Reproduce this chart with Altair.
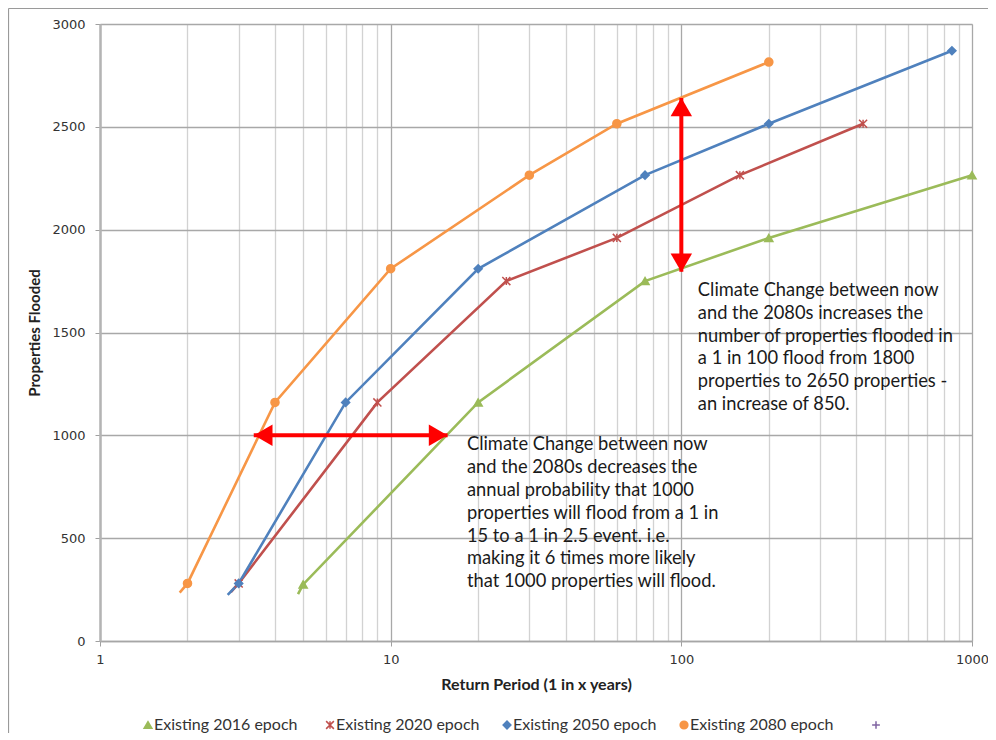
import altair as alt
import pandas as pd

# ---------------- data ----------------
series_names = ["Existing 2016 epoch", "Existing 2020 epoch",
                "Existing 2050 epoch", "Existing 2080 epoch", " "]
series_colors = ["#9BBB59", "#C0504D", "#4F81BD", "#F79646", "#8064A2"]
series_shapes = ["triangle-up", "M-1,-1L1,1M-1,1L1,-1M0,-1L0,1",
                 "diamond", "circle", "M-1,0L1,0M0,-1L0,1"]

rp_2016 = [5, 20, 75, 200, 1000]
pf_2016 = [275, 1160, 1750, 1960, 2265]
rp_2020 = [3, 9, 25, 60, 159, 422]
pf_2020 = [280, 1160, 1750, 1960, 2265, 2515]
rp_2050 = [3, 7, 20, 75, 200, 853]
pf_2050 = [280, 1160, 1810, 2265, 2515, 2870]
rp_2080 = [2, 4, 10, 30, 60, 200]
pf_2080 = [280, 1160, 1810, 2265, 2515, 2815]

# where each curve begins (a little below the first marker)
start_rp = [4.8, 2.82, 2.75, 1.88]
start_pf = [228, 238, 224, 235]

x_ticks = [1, 2, 3, 4, 5, 6, 7, 8, 9,
           10, 20, 30, 40, 50, 60, 70, 80, 90,
           100, 200, 300, 400, 500, 600, 700, 800, 900, 1000]
y_ticks = [0, 500, 1000, 1500, 2000, 2500, 3000]

# annotation arrows (data coordinates of the arrow tips)
arrow_v_rp = 100
arrow_v_pf = [1795, 2640]
arrow_h_pf = 1000
arrow_h_rp = [3.38, 15.7]

note_1 = ["Climate Change between now",
          "and the 2080s increases the",
          "number of properties flooded in",
          "a 1 in 100 flood from 1800",
          "properties to 2650 properties -",
          "an increase of 850."]
note_1_at = (114, 1703)
note_2 = ["Climate Change between now",
          "and the 2080s decreases the",
          "annual probability that 1000",
          "properties will flood from a 1 in",
          "15 to a 1 in 2.5 event. i.e.",
          "making it 6 times more likely",
          "that 1000 properties will flood."]
note_2_at = (18.3, 953)

# legend layout (pixel offsets of each entry from the plot's left edge)
legend_x = [48, 230, 407, 584, 776]
legend_y = 701

# ---------------- tables ----------------
rows = []
line_rows = []
all_rp = [rp_2016, rp_2020, rp_2050, rp_2080]
all_pf = [pf_2016, pf_2020, pf_2050, pf_2080]
for i, (rps, pfs) in enumerate(zip(all_rp, all_pf)):
    for r, p in zip(rps, pfs):
        rows.append({"rp": r, "pf": p, "series": series_names[i]})
        line_rows.append({"rp": r, "pf": p, "series": series_names[i]})
    line_rows.append({"rp": start_rp[i], "pf": start_pf[i], "series": series_names[i]})
points_df = pd.DataFrame(rows)
lines_df = pd.DataFrame(line_rows)
legend_df = pd.DataFrame({"series": series_names, "lx": legend_x})

major = "indexof([1,10,100,1000], datum.value) >= 0"

x_scale = alt.Scale(type="log", domain=[1, 1000], nice=False)
y_scale = alt.Scale(domain=[0, 3000], nice=False)

x_axis = alt.Axis(
    values=x_ticks, format="d",
    labelExpr=f"{major} ? datum.label : ''",
    title="Return Period (1 in x years)",
    grid=True,
    gridColor={"condition": {"test": major, "value": "#a8a8a8"}, "value": "#d2d2d2"},
    gridWidth=1.3,
    tickOpacity={"condition": {"test": major, "value": 1}, "value": 0},
    tickColor="#a0a0a0", tickSize=5,
    domainColor="#a6a6a6", domainWidth=1.5,
    labelFont="DejaVu Sans", labelFontSize=13, labelColor="#333333",
    labelPadding=7, labelFlush=False,
    titleFont="Lato", titleFontSize=16, titleFontWeight="bold",
    titleColor="#222222", titlePadding=10,
)
y_axis = alt.Axis(
    values=y_ticks, format="d", title="Properties Flooded",
    grid=True, gridColor="#a8a8a8", gridWidth=1.3,
    tickColor="#a0a0a0", tickSize=5,
    domainColor="#b4b4b4", domainWidth=2.5,
    labelFont="DejaVu Sans", labelFontSize=13, labelColor="#333333",
    labelPadding=10,
    titleFont="Lato", titleFontSize=15, titleFontWeight="bold",
    titleColor="#222222", titlePadding=9,
)

color_scale = alt.Scale(domain=series_names, range=series_colors)
shape_scale = alt.Scale(domain=series_names, range=series_shapes)

lines = alt.Chart(lines_df).mark_line(strokeWidth=2.6).encode(
    x=alt.X("rp:Q", scale=x_scale, axis=x_axis),
    y=alt.Y("pf:Q", scale=y_scale, axis=y_axis),
    color=alt.Color("series:N", scale=color_scale, legend=None),
    order=alt.Order("rp:Q"),
)

points = alt.Chart(points_df).mark_point(size=65, strokeWidth=1.5, opacity=1).encode(
    x=alt.X("rp:Q", scale=x_scale, axis=x_axis),
    y=alt.Y("pf:Q", scale=y_scale, axis=y_axis),
    fill=alt.Fill("series:N", scale=color_scale, legend=None),
    stroke=alt.Stroke("series:N", scale=color_scale, legend=None),
    shape=alt.Shape("series:N", scale=shape_scale, legend=None),
)

# legend drawn with the same colour / shape scales
legend_symbols = alt.Chart(legend_df).mark_point(size=60, strokeWidth=1.5, opacity=1).encode(
    x=alt.X("lx:Q", scale=None, axis=None),
    y=alt.value(legend_y),
    fill=alt.Fill("series:N", scale=color_scale, legend=None),
    stroke=alt.Stroke("series:N", scale=color_scale, legend=None),
    shape=alt.Shape("series:N", scale=shape_scale, legend=None),
)
legend_labels = alt.Chart(legend_df).mark_text(
    align="left", baseline="middle", font="Lato", fontSize=16, color="#333333", dx=6,
).encode(
    x=alt.X("lx:Q", scale=None, axis=None),
    y=alt.value(legend_y),
    text="series:N",
)

red = "#FF0000"
v_df = pd.DataFrame({"rp": [arrow_v_rp], "pf": [arrow_v_pf[0]], "pf2": [arrow_v_pf[1]]})
h_df = pd.DataFrame({"rp": [arrow_h_rp[0]], "rp2": [arrow_h_rp[1]], "pf": [arrow_h_pf]})

v_shaft = alt.Chart(v_df).mark_rule(color=red, strokeWidth=4).encode(
    x=alt.X("rp:Q", scale=x_scale), y=alt.Y("pf:Q", scale=y_scale), y2="pf2:Q")
h_shaft = alt.Chart(h_df).mark_rule(color=red, strokeWidth=4).encode(
    x=alt.X("rp:Q", scale=x_scale), x2="rp2:Q", y=alt.Y("pf:Q", scale=y_scale))

head_top = alt.Chart(v_df).mark_point(shape="triangle-up", filled=True, color=red, size=460,
                                      opacity=1, yOffset=9).encode(
    x=alt.X("rp:Q", scale=x_scale), y=alt.Y("pf2:Q", scale=y_scale))
head_bottom = alt.Chart(v_df).mark_point(shape="triangle-down", filled=True, color=red, size=460,
                                         opacity=1, yOffset=-9).encode(
    x=alt.X("rp:Q", scale=x_scale), y=alt.Y("pf:Q", scale=y_scale))
head_left = alt.Chart(h_df).mark_point(shape="triangle-left", filled=True, color=red, size=460,
                                       opacity=1, xOffset=9.5).encode(
    x=alt.X("rp:Q", scale=x_scale), y=alt.Y("pf:Q", scale=y_scale))
head_right = alt.Chart(h_df).mark_point(shape="triangle-right", filled=True, color=red, size=460,
                                        opacity=1, xOffset=-9.5).encode(
    x=alt.X("rp2:Q", scale=x_scale), y=alt.Y("pf:Q", scale=y_scale))

notes_df = pd.DataFrame({
    "rp": [note_1_at[0], note_2_at[0]],
    "pf": [note_1_at[1], note_2_at[1]],
    "txt": ["\n".join(note_1), "\n".join(note_2)],
})
notes = alt.Chart(notes_df).mark_text(
    align="left", baseline="middle", font="Lato", fontSize=18.3,
    lineHeight=22.9, lineBreak="\n", color="#1a1a1a",
).encode(x=alt.X("rp:Q", scale=x_scale), y=alt.Y("pf:Q", scale=y_scale), text="txt:N")

frame_top = alt.Chart(pd.DataFrame({"a": [0]})).mark_rule(color="#9a9a9a", strokeWidth=1.2).encode(
    x=alt.value(-91.5), x2=alt.value(905), y=alt.value(-15.5))
frame_left = alt.Chart(pd.DataFrame({"a": [0]})).mark_rule(color="#9a9a9a", strokeWidth=1.2).encode(
    x=alt.value(-91.5), y=alt.value(-15.5), y2=alt.value(720))

chart = alt.layer(
    frame_top, frame_left, lines, points, v_shaft, h_shaft,
    head_top, head_bottom, head_left, head_right, notes,
    legend_symbols, legend_labels,
).properties(
    width=872, height=617,
    autosize=alt.AutoSizeParams(type="none"),
    padding={"left": 92, "top": 16, "right": 16, "bottom": 92},
).configure_view(stroke=None).configure(background="white")

chart.save("out.html", embed_options={"renderer": "svg", "actions": False})
